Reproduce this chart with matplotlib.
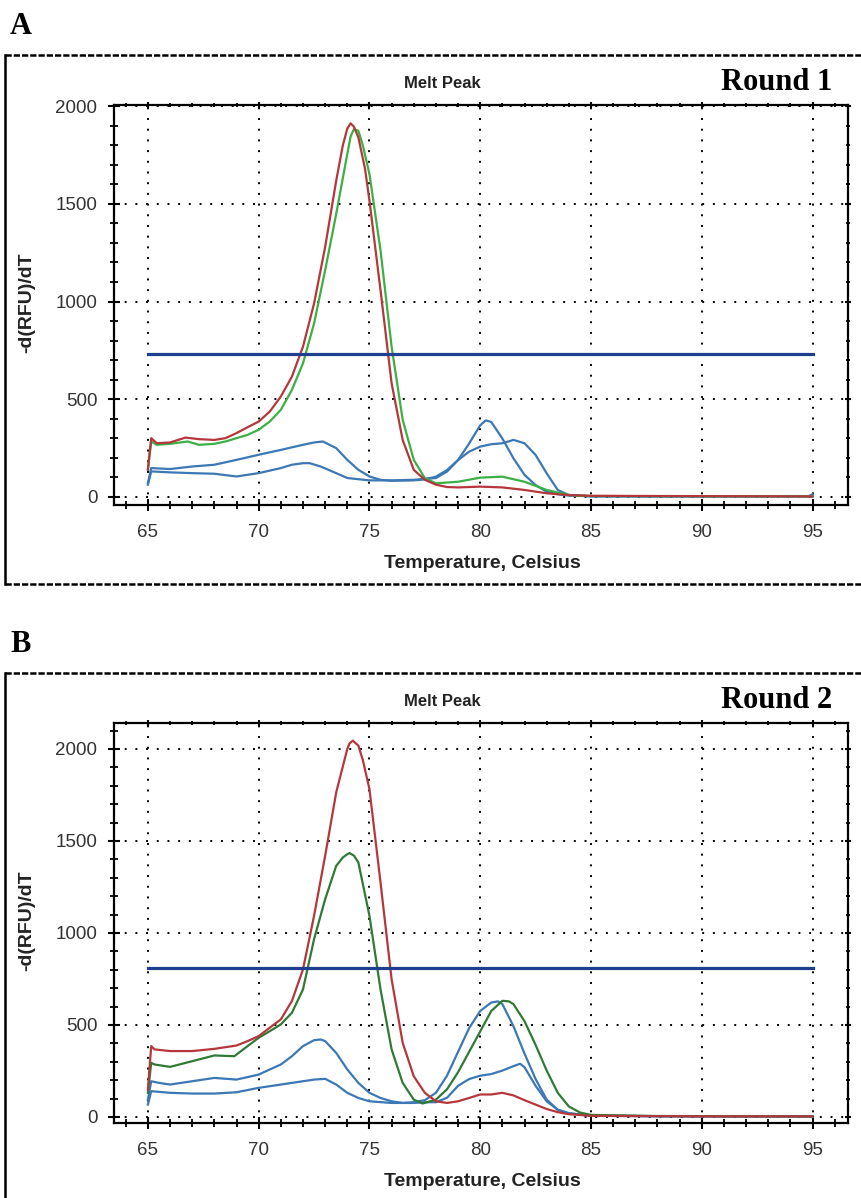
import matplotlib.pyplot as plt
from matplotlib.lines import Line2D
from matplotlib.ticker import MultipleLocator

# ---- Round 1 (panel A) ----
a_red_t = [65.0, 65.15, 65.4, 66, 66.7, 67.3, 68, 68.5, 69, 69.5, 70, 70.5, 71, 71.5, 72, 72.5, 73, 73.5,
           73.8, 74, 74.15, 74.3, 74.5, 74.8, 75, 75.5, 76, 76.5, 77, 77.5, 78, 78.5, 79, 80, 81, 82, 83,
           84, 85, 88, 91, 95]
a_red_v = [140, 301, 275, 279, 304, 296, 292, 301, 327, 357, 386, 437, 514, 616, 769, 990, 1279, 1619,
           1800, 1885, 1912, 1895, 1840, 1680, 1517, 1058, 582, 292, 139, 88, 63, 51, 49, 53, 49, 36, 19,
           10, 6, 5, 4, 3]

a_green_t = [65.0, 65.15, 65.4, 66, 66.8, 67.3, 68, 68.5, 69, 69.5, 70, 70.5, 71, 71.5, 72, 72.5, 73, 73.5,
             74, 74.15, 74.3, 74.5, 74.7, 75, 75.5, 76, 76.5, 77, 77.5, 78, 79, 80, 81, 82, 83, 84, 85,
             88, 91, 95]
a_green_v = [140, 284, 267, 272, 284, 267, 272, 284, 301, 318, 344, 386, 446, 548, 684, 888, 1160, 1449,
             1755, 1845, 1883, 1874, 1800, 1653, 1262, 769, 395, 190, 97, 70, 78, 99, 104, 78, 36, 10, 5,
             4, 4, 3]

a_blue1_t = [65.0, 65.15, 66, 67, 68, 69, 70, 71, 72, 72.5, 72.9, 73.5, 74, 74.5, 75, 75.5, 76, 77, 77.5,
             78, 78.5, 79, 79.5, 80, 80.5, 81, 81.5, 82, 82.5, 83, 83.5, 84, 85, 88, 91, 94.8, 95]
a_blue1_v = [71, 148, 143, 156, 165, 190, 216, 241, 267, 279, 284, 250, 190, 139, 105, 88, 83, 85, 90,
             104, 138, 189, 232, 258, 270, 275, 292, 275, 215, 121, 36, 10, 3, 3, 3, 3, 14]

a_blue2_t = [65.0, 65.15, 66, 67, 68, 69, 70, 71, 71.5, 72, 72.3, 72.8, 73.5, 74, 75, 76, 77, 78, 78.5,
             79, 79.5, 80, 80.25, 80.5, 81, 81.5, 82, 82.5, 83, 83.5, 84, 85, 88, 91, 95]
a_blue2_v = [63, 131, 126, 122, 119, 105, 122, 148, 165, 173, 173, 156, 122, 97, 85, 85, 88, 97, 130,
             189, 274, 367, 392, 384, 299, 198, 113, 61, 27, 14, 7, 4, 3, 3, 3]

a_threshold = 732

# ---- Round 2 (panel B) ----
b_red_t = [65.0, 65.15, 65.3, 66, 67, 68, 69, 69.5, 70, 70.5, 71, 71.5, 72, 72.5, 73, 73.5, 74, 74.1,
           74.25, 74.5, 74.7, 75, 75.5, 76, 76.5, 77, 77.5, 78, 78.5, 79, 79.5, 80, 80.5, 81, 81.5, 82,
           82.5, 83, 83.5, 84, 85, 88, 91, 95]
b_red_v = [149, 385, 367, 358, 358, 370, 388, 412, 439, 485, 530, 630, 802, 1093, 1419, 1764, 2000, 2030,
           2045, 2018, 1940, 1782, 1274, 748, 403, 221, 131, 85, 76, 85, 103, 122, 122, 131, 117, 91,
           67, 43, 26, 15, 6, 4, 3, 3]

b_green_t = [65.0, 65.15, 65.3, 66, 67, 68, 68.9, 69.5, 70, 70.5, 71, 71.5, 72, 72.5, 73, 73.5, 73.8, 74,
             74.1, 74.3, 74.5, 75, 75.5, 76, 76.5, 77, 77.4, 78, 78.5, 79, 79.5, 80, 80.5, 81, 81.3, 81.5,
             82, 82.5, 83, 83.5, 84, 84.5, 85, 88, 91, 95]
b_green_v = [131, 294, 285, 272, 303, 334, 330, 385, 430, 466, 503, 566, 693, 966, 1183, 1365, 1410, 1428,
             1434, 1420, 1383, 1093, 693, 367, 185, 94, 73, 94, 150, 243, 354, 465, 576, 631, 628, 613,
             520, 391, 252, 131, 57, 24, 11, 5, 4, 3]

b_blue1_t = [65.0, 65.15, 65.5, 66, 67, 68, 69, 70, 70.5, 71, 71.5, 72, 72.5, 72.8, 73, 73.5, 74, 74.5,
             75, 75.5, 76, 76.5, 77, 77.5, 78, 78.5, 79, 79.5, 80, 80.5, 80.8, 81, 81.5, 82, 82.5, 83,
             83.5, 84, 85, 88, 91, 95]
b_blue1_v = [94, 194, 185, 176, 194, 212, 203, 230, 258, 285, 330, 385, 417, 421, 412, 348, 258, 185,
             131, 103, 85, 76, 80, 91, 131, 224, 354, 483, 576, 622, 628, 613, 493, 344, 206, 94,
             39, 20, 6, 4, 3, 3]

b_blue2_t = [65.0, 65.15, 66, 67, 68, 69, 70, 71, 72, 72.5, 73, 73.5, 74, 74.5, 75, 76, 77, 77.5, 78,
             78.5, 79, 79.5, 80, 80.5, 81, 81.5, 81.8, 82, 82.5, 83, 83.5, 84, 85, 88, 91, 95]
b_blue2_v = [67, 140, 131, 127, 127, 134, 158, 176, 194, 203, 207, 176, 131, 103, 85, 76, 76, 80, 80,
             104, 169, 206, 224, 233, 252, 276, 289, 270, 169, 85, 39, 20, 7, 4, 3, 3]

b_threshold = 810

x_ticks = [65, 70, 75, 80, 85, 90, 95]
y_ticks = [0, 500, 1000, 1500, 2000]

RED = '#b5373b'
BLUE = '#3b78b5'
THR = '#1d3f8e'

W, H = 862, 1198


def fx(px):
    return px / W


def fy(py):
    return 1 - py / H


fig = plt.figure(figsize=(8.62, 11.98), dpi=100)
fig.patch.set_facecolor('white')


def make_panel(top_px, ylim, curves, thr, letter, round_txt):
    ax = fig.add_axes([fx(114), fy(top_px + 400), fx(848) - fx(114), 400 / H])
    for t, v, c in curves:
        ax.plot(t, v, color=c, lw=1.6, solid_joinstyle='round')
    ax.plot([65, 95], [thr, thr], color=THR, lw=2.3)
    ax.set_xlim(63.47, 96.6)
    ax.set_ylim(*ylim)
    ax.set_xticks(x_ticks)
    ax.set_yticks(y_ticks)
    ax.xaxis.set_minor_locator(MultipleLocator(1))
    ax.yaxis.set_minor_locator(MultipleLocator(100))
    ax.grid(True, which='major', color='black', linestyle=(0, (1, 4.5)), lw=1.4)
    ax.tick_params(which='major', direction='inout', length=9, width=1.5,
                   labelsize=13.5, labelcolor='#333333', top=True, right=True)
    ax.tick_params(axis='x', which='major', pad=9)
    ax.tick_params(axis='y', which='major', pad=7.5)
    ax.tick_params(which='minor', direction='inout', length=5.5, width=1.3,
                   top=True, right=True)
    for tk in ax.xaxis.get_major_ticks() + ax.yaxis.get_major_ticks():
        tk.tick2line.set_markersize(4)
    for tk in ax.xaxis.get_minor_ticks() + ax.yaxis.get_minor_ticks():
        tk.tick2line.set_markersize(3)
    for sp in ax.spines.values():
        sp.set_linewidth(1.6)
        sp.set_color('black')
    for lab in ax.get_xticklabels() + ax.get_yticklabels():
        lab.set_fontfamily('Liberation Sans')

    fig.text(fx(442), fy(top_px - 22), 'Melt Peak', ha='center', va='center',
             fontsize=12, fontweight='bold', family='Liberation Sans', color='#222222')
    fig.text(fx(832), fy(top_px - 22), round_txt, ha='right', va='center',
             fontsize=22, fontweight='bold', family='Liberation Serif')
    fig.text(fx(10), fy(top_px - 78), letter, ha='left', va='center',
             fontsize=22, fontweight='bold', family='Liberation Serif')
    fig.text(fx(27), fy(top_px + 198), '-d(RFU)/dT', rotation=90, ha='center', va='center',
             fontsize=14, fontweight='bold', family='Liberation Sans', color='#222222')
    fig.text(fx(482), fy(top_px + 458), 'Temperature, Celsius', ha='center', va='center',
             fontsize=14, fontweight='bold', family='Liberation Sans', color='#222222')
    return ax


make_panel(105, (-41, 2006),
           [(a_blue1_t, a_blue1_v, BLUE), (a_blue2_t, a_blue2_v, BLUE),
            (a_green_t, a_green_v, '#3bb045'), (a_red_t, a_red_v, RED)],
           a_threshold, 'A', 'Round 1')

make_panel(723, (-33, 2141),
           [(b_blue1_t, b_blue1_v, BLUE), (b_blue2_t, b_blue2_v, BLUE),
            (b_green_t, b_green_v, '#2f7a35'), (b_red_t, b_red_v, RED)],
           b_threshold, 'B', 'Round 2')

# panel frames: solid left edge, fine dashed top/bottom edges
frame_ls = (0, (2.5, 0.8))
fig.add_artist(Line2D([fx(5), fx(5)], [fy(55), fy(584)], color='black', lw=1.8))
fig.add_artist(Line2D([fx(5), 1], [fy(55), fy(55)], color='black', lw=1.8, linestyle=frame_ls))
fig.add_artist(Line2D([fx(5), 1], [fy(584), fy(584)], color='black', lw=1.8, linestyle=frame_ls))
fig.add_artist(Line2D([fx(5), fx(5)], [fy(673), 0], color='black', lw=1.8))
fig.add_artist(Line2D([fx(5), 1], [fy(673), fy(673)], color='black', lw=1.8, linestyle=frame_ls))

plt.savefig('out.png', dpi=100)
